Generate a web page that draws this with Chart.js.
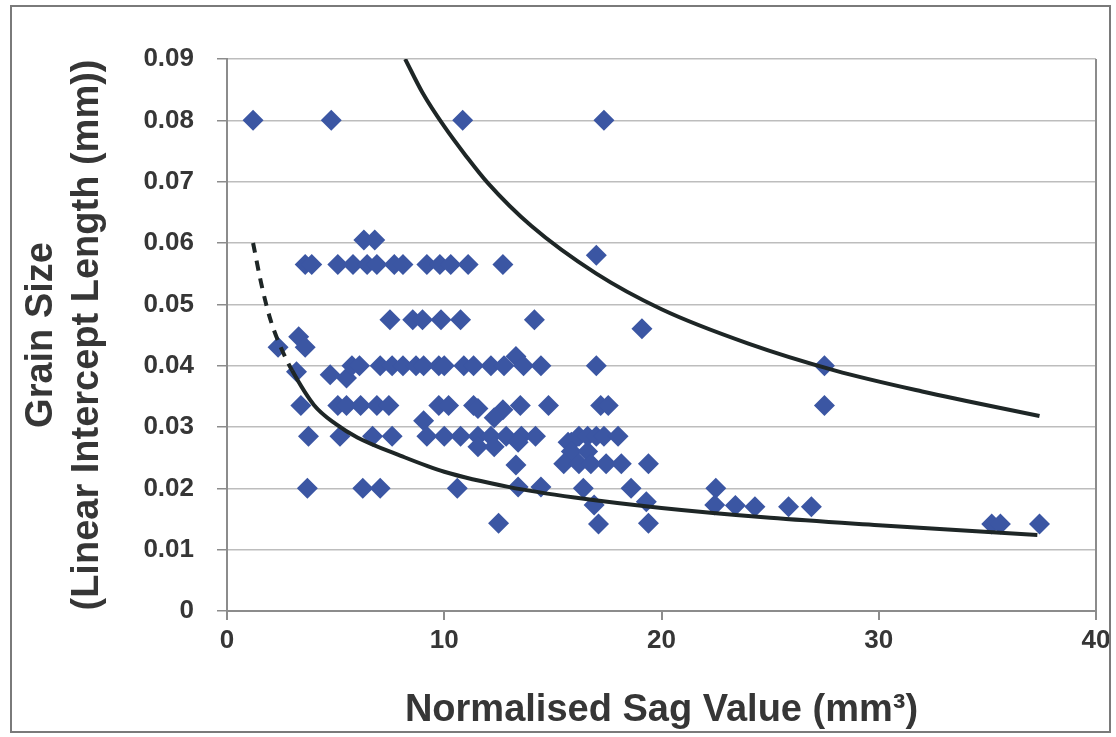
<!DOCTYPE html>
<html>
<head>
<meta charset="utf-8">
<script src="https://cdn.jsdelivr.net/npm/chart.js@4/dist/chart.umd.min.js"></script>
<style>
  html, body { margin: 0; padding: 0; background: #ffffff; }
  #wrap { position: relative; width: 1116px; height: 737px; }
  #frame { position: absolute; left: 10px; top: 5px; width: 1101px; height: 728px; border: 2px solid #7a7a7a; box-sizing: border-box; pointer-events: none; }
  canvas { position: absolute; left: 0; top: 0; }
</style>
</head>
<body>
<div id="wrap">
  <canvas id="c" width="1116" height="737"></canvas>
  <div id="frame"></div>
</div>
<script>
// ---- data ----
const sagValues = [
  1.2, 4.8, 10.85, 17.35,
  6.3, 6.8,
  17.0,
  3.6, 3.9, 5.1, 5.8, 6.45, 6.9, 7.7, 8.1, 9.2, 9.8, 10.3, 11.1, 12.7,
  7.5, 8.55, 9.0, 9.85, 10.75, 14.15,
  19.1,
  3.3, 2.35, 3.6,
  3.2, 4.75, 5.5, 5.75, 6.1, 7.05, 7.6, 8.1, 8.7, 9.05, 9.75, 10.0, 10.9, 11.35, 12.15, 12.75, 13.3, 13.65, 14.45, 17.0, 27.5,
  3.4, 5.1, 5.5, 6.15, 6.9, 7.45, 9.75, 10.2, 11.35, 11.55, 12.7, 13.5, 14.8, 17.2, 17.55, 27.5,
  9.05, 12.3,
  3.75, 5.2, 6.7, 7.6, 9.2, 10.0, 10.75, 11.55, 12.15, 12.85, 13.55, 14.2, 16.2, 16.6, 17.0, 17.35, 18.0,
  15.7, 13.4, 15.85,
  11.55, 12.3,
  15.85, 16.6,
  13.3, 15.5, 16.2, 16.75, 17.45, 18.15, 19.4,
  3.7, 6.25, 7.05, 10.6, 13.4, 14.45, 16.4, 18.6, 22.5,
  16.9, 19.3, 22.45, 23.4, 24.3, 25.85, 26.9,
  12.5, 17.1, 19.4, 35.2, 35.6, 37.4
];
const grainSizes = [
  0.080, 0.080, 0.080, 0.080,
  0.0605, 0.0605,
  0.058,
  0.0565, 0.0565, 0.0565, 0.0565, 0.0565, 0.0565, 0.0565, 0.0565, 0.0565, 0.0565, 0.0565, 0.0565, 0.0565,
  0.0475, 0.0475, 0.0475, 0.0475, 0.0475, 0.0475,
  0.046,
  0.0447, 0.043, 0.043,
  0.039, 0.0385, 0.038, 0.040, 0.040, 0.040, 0.040, 0.040, 0.040, 0.040, 0.040, 0.040, 0.040, 0.040, 0.040, 0.040, 0.0415, 0.040, 0.040, 0.040, 0.040,
  0.0335, 0.0335, 0.0335, 0.0335, 0.0335, 0.0335, 0.0335, 0.0335, 0.0335, 0.033, 0.0328, 0.0335, 0.0335, 0.0335, 0.0335, 0.0335,
  0.031, 0.0315,
  0.0285, 0.0285, 0.0285, 0.0285, 0.0285, 0.0285, 0.0285, 0.0285, 0.0285, 0.0285, 0.0285, 0.0285, 0.0285, 0.0285, 0.0285, 0.0285, 0.0285,
  0.0275, 0.0275, 0.0275,
  0.0268, 0.0268,
  0.026, 0.026,
  0.0238, 0.024, 0.024, 0.024, 0.024, 0.024, 0.024,
  0.020, 0.020, 0.020, 0.020, 0.0202, 0.0202, 0.020, 0.020, 0.020,
  0.0173, 0.0178, 0.0173, 0.0172, 0.017, 0.017, 0.017,
  0.0143, 0.0142, 0.0143, 0.0142, 0.0142, 0.0142
];
// upper boundary curve
const upperCurveX = [8.2, 9, 10, 11, 12, 14, 17, 20, 24, 28, 32, 37.4];
const upperCurveY = [0.090, 0.0845, 0.079, 0.0742, 0.0698, 0.0628, 0.0550, 0.0492, 0.0436, 0.0392, 0.0358, 0.0318];
// lower boundary curve
const lowerCurveX = [1.2, 1.6, 2, 2.5, 3, 4, 5, 6, 8, 10, 13, 16, 20, 25, 30, 37.3];
const lowerCurveY = [0.060, 0.053, 0.0475, 0.0428, 0.0392, 0.0336, 0.0305, 0.0283, 0.0253, 0.0227, 0.0202, 0.0185, 0.0168, 0.0152, 0.0140, 0.0124];
const xTickValues = [0, 10, 20, 30, 40];
const yTickLabels = ['0', '0.01', '0.02', '0.03', '0.04', '0.05', '0.06', '0.07', '0.08', '0.09'];

const xTitle = 'Normalised Sag Value (mm\u00B3)';
const yTitle = ['Grain Size', '(Linear Intercept Length (mm))'];

// ---- build datasets ----
const scatterPts = sagValues.map((x, i) => ({ x: x, y: grainSizes[i] }));
const upperPts = upperCurveX.map((x, i) => ({ x: x, y: upperCurveY[i] }));
const lowerPts = lowerCurveX.map((x, i) => ({ x: x, y: lowerCurveY[i] }));

const textColor = '#363636';
const fontFamily = '"Liberation Sans", Arial, sans-serif';

const plotBorder = {
  id: 'plotBorder',
  afterDraw(chart) {
    const { ctx, chartArea } = chart;
    ctx.save();
    ctx.strokeStyle = '#8c8c8c';
    ctx.lineWidth = 2;
    ctx.beginPath();
    ctx.moveTo(chartArea.right, chartArea.top);
    ctx.lineTo(chartArea.right, chartArea.bottom);
    ctx.stroke();
    ctx.restore();
  }
};

new Chart(document.getElementById('c'), {
  type: 'scatter',
  data: {
    datasets: [
      {
        label: 'Data',
        data: scatterPts,
        pointStyle: 'rectRot',
        pointRadius: 10.5,
        pointHoverRadius: 10.5,
        backgroundColor: '#3b56a3',
        borderColor: '#3b56a3',
        borderWidth: 0,
        order: 2
      },
      {
        label: 'Upper',
        data: upperPts,
        showLine: true,
        pointRadius: 0,
        borderColor: '#1e2626',
        borderWidth: 4,
        cubicInterpolationMode: 'monotone',
        fill: false,
        order: 1
      },
      {
        label: 'Lower',
        data: lowerPts,
        showLine: true,
        pointRadius: 0,
        borderColor: '#1e2626',
        borderWidth: 4,
        cubicInterpolationMode: 'monotone',
        fill: false,
        segment: {
          borderDash: ctx => (ctx.p0.parsed.x < 3 ? [10, 8] : undefined)
        },
        order: 1
      }
    ]
  },
  options: {
    responsive: false,
    animation: false,
    devicePixelRatio: 1,
    layout: { padding: { left: 0, right: 20, top: 59, bottom: 0 } },
    plugins: {
      legend: { display: false },
      tooltip: { enabled: false }
    },
    scales: {
      x: {
        type: 'linear',
        min: 0,
        max: 40,
        afterFit(scale) { scale.height = 126; },
        afterBuildTicks(scale) { scale.ticks = xTickValues.map(v => ({ value: v })); },
        border: { display: true, color: '#8c8c8c', width: 2 },
        grid: { drawOnChartArea: false, drawTicks: true, tickLength: 9, color: '#8c8c8c', lineWidth: 2 },
        ticks: {
          color: textColor,
          padding: 5,
          maxRotation: 0,
          font: { family: fontFamily, size: 26, weight: 'bold' },
          callback: v => String(v)
        },
        title: {
          display: true,
          text: xTitle,
          color: textColor,
          font: { family: fontFamily, size: 38, weight: 'bold', lineHeight: 1.2 },
          padding: { top: 0, bottom: 4 }
        }
      },
      y: {
        type: 'linear',
        min: 0,
        max: 0.09,
        afterFit(scale) { scale.width = 227; },
        afterBuildTicks(scale) { scale.ticks = yTickLabels.map((t, i) => ({ value: i / 100 })); },
        border: { display: true, color: '#8c8c8c', width: 2 },
        grid: {
          drawTicks: true,
          tickLength: 10,
          color: '#bdbdbd',
          lineWidth: 1.5,
          tickColor: '#8c8c8c'
        },
        ticks: {
          color: textColor,
          padding: 23,
          font: { family: fontFamily, size: 26, weight: 'bold' },
          callback: (v, i) => yTickLabels[i]
        },
        title: {
          display: true,
          text: yTitle,
          color: textColor,
          font: { family: fontFamily, size: 38, weight: 'bold', lineHeight: 1.2 },
          padding: { top: 19, bottom: 0 }
        }
      }
    }
  },
  plugins: [plotBorder]
});
</script>
</body>
</html>
